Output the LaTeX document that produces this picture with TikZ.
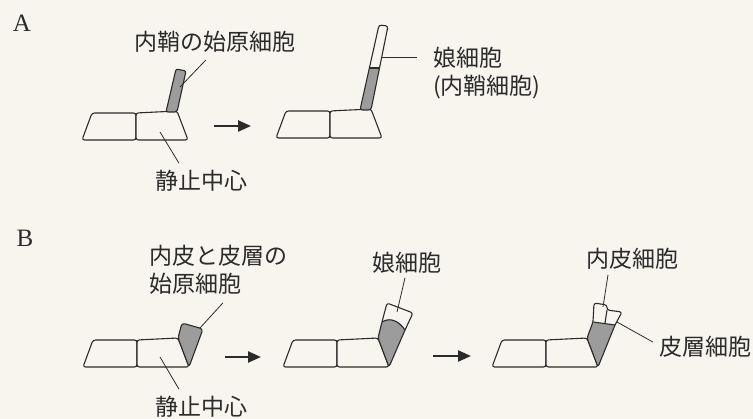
\documentclass[tikz,border=0pt]{standalone}
\usepackage{fontspec}
\newfontfamily\jpfont{Noto Sans CJK JP}
\newfontfamily\panelfont{Liberation Serif}
\usetikzlibrary{arrows.meta}
\definecolor{ink}{HTML}{2B2B2B}
\definecolor{paper}{HTML}{F7F5EE}
\definecolor{stem}{HTML}{9C9C9C}

\begin{document}
\begin{tikzpicture}[x=1pt, y=-1pt,
    cell/.style={draw=ink, line width=1.1pt, rounded corners=2.5pt, fill=paper, line join=round},
    seed/.style={cell, fill=stem, rounded corners=2pt},
    wall/.style={draw=ink, line width=1.1pt},
    ptr/.style={draw=ink, line width=0.8pt},
    lbl/.style={font=\jpfont\fontsize{23}{28}\selectfont, text=ink, inner sep=1pt},
    panel/.style={font=\panelfont\fontsize{25}{30}\selectfont, text=ink, inner sep=0pt},
    go/.style={draw=ink, line width=2.4pt, -{Triangle[length=13pt, width=11pt]}},
    root/.pic={
      \draw[cell] (-54,0) -- (-44,-27) -- (0,-27) -- (0,0) -- cycle;
      \draw[cell] (0,0) -- (0,-27) -- (41,-29) -- (52,0) -- cycle;
    }]
  \useasboundingbox (0,0) rectangle (753,419);
  \fill[paper] (0,0) rectangle (753,419);

  % A: pericycle initial
  \begin{scope}[shift={(136,140)}]
    \pic {root};
    \draw[seed] (30,-28) -- (40,-71) -- (50,-69) -- (41,-28) -- cycle;
    \coordinate (tipA1) at (44,-53);
    \coordinate (qcA1) at (24,-8);
  \end{scope}
  \begin{scope}[shift={(330,138)}]
    \pic {root};
    \fill[stem, rounded corners=2pt] (30,-28) -- (39.4,-70) -- (49.5,-70) -- (41,-28) -- cycle;
    \draw[cell, fill=none] (30,-28) -- (49,-113) -- (58,-112) -- (41,-28) -- cycle;
    \draw[wall] (39.4,-70) -- (49.5,-70);
    \coordinate (tipA2) at (52,-81);
  \end{scope}
  \coordinate (arrA0) at (214,126);
  \coordinate (arrA1) at (251,126);
  \draw[go] (arrA0) -- (arrA1);

  \node[panel] (panA) at (22,23) {A};
  \node[lbl] (lblA1) at (215,42) {内鞘の始原細胞};
  \node[lbl] (qcA) at (201,181) {静止中心};
  \node[lbl, align=left, anchor=west] (lblA2) at (432,73) {娘細胞\\(内鞘細胞)};
  \draw[ptr] (lblA1.south) ++(-9,6) -- (tipA1);
  \draw[ptr] (qcA.north) ++(-22,-6) -- (qcA1);
  \draw[ptr, shorten >=15pt] (tipA2) -- (tipA2 -| lblA2.west);

  % B: endodermis / cortex initial
  \begin{scope}[shift={(137,367)}]
    \pic {root};
    \draw[seed, rounded corners=3pt] (41,-29) -- (45,-44) -- (66,-38) -- (52,0) -- cycle;
    \coordinate (tipB1) at (63,-39);
    \coordinate (qcB1) at (23,-10);
  \end{scope}
  \begin{scope}[shift={(337,367)}]
    \pic {root};
    \fill[stem, rounded corners=2pt] (41,-29) -- (45,-45) .. controls (53,-50) and (62,-46) .. (68,-37) -- (52,0) -- cycle;
    \draw[cell, fill=none] (41,-29) -- (45,-45) -- (50,-64) -- (76,-54) -- (68,-37) -- (52,0) -- cycle;
    \draw[wall] (45,-45) .. controls (53,-50) and (62,-46) .. (68,-37);
    \coordinate (tipB2) at (60,-55);
  \end{scope}
  \begin{scope}[shift={(546,367)}]
    \pic {root};
    \fill[stem, rounded corners=2pt] (41,-29) -- (47,-45) -- (69,-42) -- (52,0) -- cycle;
    \draw[cell, fill=none] (41,-29) -- (47,-45) -- (48,-64) -- (61,-62) -- (61,-57) -- (76,-55) -- (69,-42) -- (52,0) -- cycle;
    \draw[wall] (47,-45) -- (69,-42);
    \draw[wall] (61,-57) -- (59,-44);
    \coordinate (tipB3a) at (57,-60);
    \coordinate (tipB3b) at (71,-45);
  \end{scope}
  \coordinate (arrB0) at (225,357);
  \coordinate (arrB1) at (261,357);
  \coordinate (arrB2) at (433,356);
  \coordinate (arrB3) at (471,356);
  \draw[go] (arrB0) -- (arrB1);
  \draw[go] (arrB2) -- (arrB3);

  \node[panel] (panB) at (25,238) {B};
  \node[lbl, align=left] (lblB1) at (218,270) {内皮と皮層の\\始原細胞};
  \node[lbl] (qcB) at (201,407) {静止中心};
  \node[lbl] (lblB2) at (407,263) {娘細胞};
  \node[lbl] (lblB3a) at (632,259) {内皮細胞};
  \node[lbl] (lblB3b) at (705,347) {皮層細胞};
  \draw[ptr] (lblB1.south) ++(5,7) -- (tipB1);
  \draw[ptr] (qcB.north) ++(-22,-6) -- (qcB1);
  \draw[ptr] (lblB2.south) ++(-2,3) -- (tipB2);
  \draw[ptr] (lblB3a.south) ++(-24,4) -- (tipB3a);
  \draw[ptr] (lblB3b.west) ++(-5,-5) -- (tipB3b);
\end{tikzpicture}
\end{document}
